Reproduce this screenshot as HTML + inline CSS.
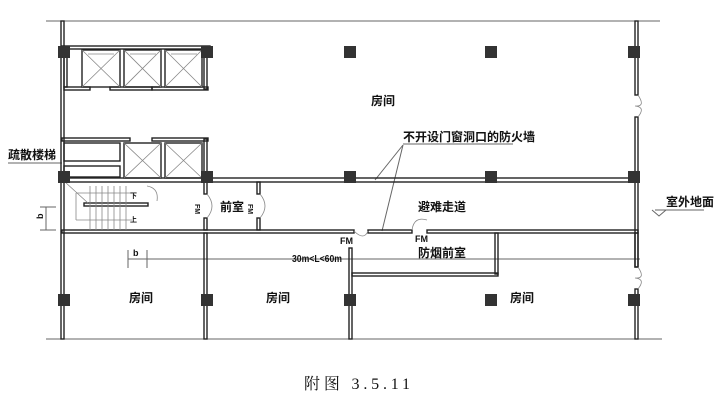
<!DOCTYPE html>
<html><head><meta charset="utf-8"><style>
body{margin:0;background:#fff;width:724px;height:403px;overflow:hidden}
svg{display:block}
text{font-family:"Liberation Sans","Noto Sans CJK SC",sans-serif;fill:#111}
</style></head><body>
<svg width="724" height="403" viewBox="0 0 724 403">
<g stroke="#666" stroke-width="1" fill="none">
<line x1="46" y1="21" x2="660" y2="21"/>
<line x1="46" y1="339" x2="662" y2="339"/>
<line x1="8" y1="163" x2="62" y2="163"/>
<line x1="655" y1="210" x2="704" y2="210"/>
<polyline points="652,210 659,216 666,210" />
<line x1="403" y1="144" x2="513" y2="144"/>
<line x1="403" y1="145" x2="375" y2="180"/>
<line x1="403" y1="145" x2="382" y2="231"/>
<line x1="128" y1="259" x2="640" y2="259"/>
<line x1="128" y1="250" x2="128" y2="268"/>
<line x1="147" y1="250" x2="147" y2="268"/>
<line x1="40" y1="207" x2="56" y2="207"/>
<line x1="40" y1="230" x2="56" y2="230"/>
<line x1="46" y1="207" x2="46" y2="230"/>
</g>
<g stroke="#222" stroke-width="1.4" fill="none">
<rect x="61" y="21" width="3" height="318"/>
<rect x="635" y="21" width="3" height="74"/>
<rect x="635" y="117" width="3" height="150"/>
<rect x="635" y="289" width="3" height="50"/>
<rect x="62" y="46" width="148" height="3"/>
<rect x="64" y="49" width="3" height="38"/>
<rect x="64" y="87" width="26" height="3"/>
<rect x="110" y="87" width="42" height="3"/>
<rect x="152" y="87" width="56" height="3"/>
<rect x="204" y="49" width="3" height="40"/>
<rect x="82" y="50" width="38" height="37"/>
<rect x="124" y="50" width="37" height="37"/>
<rect x="165" y="50" width="37" height="37"/>
<rect x="62" y="138" width="68" height="3"/>
<rect x="152" y="138" width="56" height="3"/>
<rect x="64" y="143" width="56" height="18"/>
<rect x="64" y="166" width="56" height="11"/>
<rect x="124" y="143" width="37" height="35"/>
<rect x="165" y="143" width="37" height="35"/>
<rect x="204" y="139" width="3" height="40"/>
<rect x="62" y="178" width="576" height="4"/>
<rect x="62" y="230" width="292" height="3"/>
<rect x="368" y="230" width="44" height="3"/>
<rect x="427" y="230" width="211" height="3"/>
<rect x="352" y="273" width="146" height="3"/>
<rect x="495" y="233" width="3" height="41"/>
<rect x="635" y="233" width="3" height="34"/>
<rect x="204" y="233" width="3" height="106"/>
<rect x="349" y="248" width="3" height="91"/>
<rect x="204" y="182" width="3" height="12"/>
<rect x="204" y="218" width="3" height="12"/>
<rect x="257" y="182" width="3" height="12"/>
<rect x="257" y="218" width="3" height="12"/>
<rect x="84" y="203" width="64" height="3"/>
</g>
<g stroke="#888" stroke-width="0.8" fill="none">
<path d="M82,50L120,87M120,50L82,87M124,50L161,87M161,50L124,87M165,50L202,87M202,50L165,87"/>
<path d="M124,143L161,178M161,143L124,178M165,143L202,178M202,143L165,178"/>
<path d="M88,54h26M130,54h26M171,54h26"/>
<path d="M90,186v44M96,186v44M102,186v44M108,186v44M114,186v44M120,186v44M126,186v44"/>
<path d="M76,193h56M76,220h56M76,193v27M65,182L88,203"/>
<path d="M147,186 q12,2 10,15 M207,194 q10,12 0,24 M260,194 q10,12 0,24 M354,231 q10,10 14,0 M412,230 q2,-14 15,-10 M638,95 q8,12 -3,11 q11,1 3,11 M638,267 q8,12 -3,11 q11,1 3,11"/>
</g>
<g fill="#333">
<rect x="58" y="46" width="12" height="12"/><rect x="201" y="46" width="12" height="12"/><rect x="344" y="46" width="12" height="12"/><rect x="485" y="46" width="12" height="12"/><rect x="628" y="46" width="12" height="12"/>
<rect x="58" y="171" width="12" height="12"/><rect x="201" y="171" width="12" height="12"/><rect x="344" y="171" width="12" height="12"/><rect x="485" y="171" width="12" height="12"/><rect x="628" y="171" width="12" height="12"/>
<rect x="58" y="294" width="12" height="12"/><rect x="201" y="294" width="12" height="12"/><rect x="344" y="294" width="12" height="12"/><rect x="485" y="294" width="12" height="12"/><rect x="628" y="294" width="12" height="12"/>
</g>
<g font-size="12" font-weight="bold">
<text x="371" y="105">房间</text>
<text x="403" y="141">不开设门窗洞口的防火墙</text>
<text x="8" y="159">疏散楼梯</text>
<text x="418" y="211">避难走道</text>
<text x="666" y="206">室外地面</text>
<text x="418" y="257">防烟前室</text>
<text x="220" y="211">前室</text>
<text x="129" y="302">房间</text>
<text x="266" y="302">房间</text>
<text x="510" y="302">房间</text>
</g>
<g font-size="9" font-weight="bold">
<text x="292" y="262" font-size="10" textLength="50" lengthAdjust="spacingAndGlyphs">30m&lt;L&lt;60m</text>
<text x="340" y="244">FM</text>
<text x="415" y="242">FM</text>
<text x="133" y="256">b</text>
<text x="40" y="222" transform="rotate(-90 40 219)">b</text>
<text x="130" y="198" font-size="7">下</text>
<text x="130" y="222" font-size="7">上</text>
<text x="195" y="210" font-size="7" transform="rotate(90 198 207)">FM</text>
<text x="248" y="210" font-size="7" transform="rotate(90 251 207)">FM</text>
</g>
<text x="304" y="389" style="font-family:'Liberation Serif','Noto Serif CJK SC',serif;font-size:16px" textLength="106" lengthAdjust="spacing">附图 3.5.11</text>
</svg>
</body></html>
